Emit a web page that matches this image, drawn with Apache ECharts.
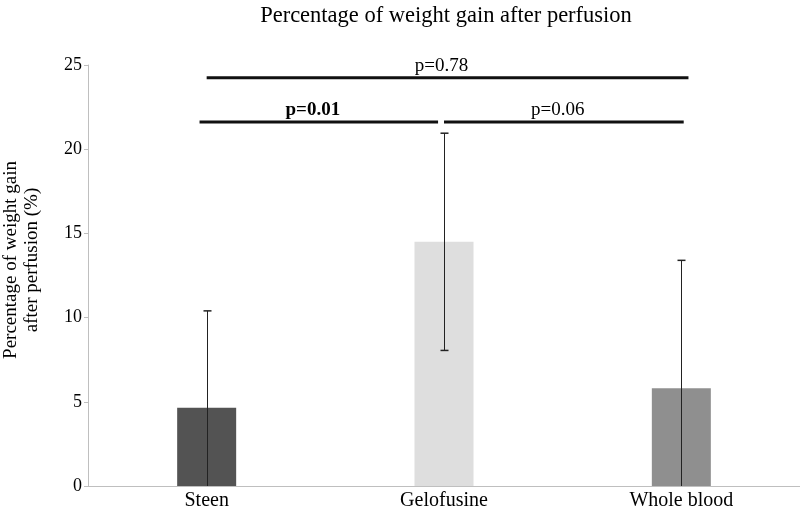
<!DOCTYPE html>
<html>
<head>
<meta charset="utf-8">
<script src="https://cdn.jsdelivr.net/npm/echarts@6/dist/echarts.min.js"></script>
<style>html,body{margin:0;padding:0;background:#fff}#c{width:800px;height:511px}</style>
</head>
<body>
<div id="c"></div>
<script>
var categories = ['Steen', 'Gelofusine', 'Whole blood'];
var means = [4.65, 14.5, 5.8];
var sds = [5.75, 6.45, 7.6];
var barColors = ['#535353', '#dedede', '#8f8f8f'];
var yTicks = [0, 5, 10, 15, 20, 25];
// significance brackets: [start, end] on category scale (0..3, centers at .5,1.5,2.5), level, text, bold
var bracketStart = [0.50, 0.47, 1.50];
var bracketEnd = [2.53, 1.475, 2.51];
var bracketLevel = [24.25, 21.62, 21.62];
var bracketText = ['p=0.78', 'p=0.01', 'p=0.06'];
var bracketBold = [false, true, false];

var FONT = "'Liberation Serif', 'Times New Roman', serif";
var chart = echarts.init(document.getElementById('c'));

var barData = means.map(function (v, i) {
  return { value: v, itemStyle: { color: barColors[i] } };
});
var errData = means.map(function (v, i) {
  return [i, Math.max(0, v - sds[i]), v + sds[i]];
});
var brData = bracketText.map(function (t, i) {
  return [bracketStart[i], bracketEnd[i], bracketLevel[i], i];
});

chart.setOption({
  animation: false,
  title: {
    text: 'Percentage of weight gain after perfusion',
    left: 441, top: 0, textAlign: 'center',
    textStyle: { fontFamily: FONT, fontSize: 22.5, fontWeight: 'normal', color: '#000' }
  },
  graphic: [{
    type: 'text',
    x: 22, y: 260, rotation: Math.PI / 2,
    style: {
      text: 'Percentage of weight gain\nafter perfusion (%)',
      font: '19px ' + FONT, fill: '#000',
      align: 'center', verticalAlign: 'middle', lineHeight: 21
    }
  }],
  grid: { left: 88, right: 0, top: 65, bottom: 24, containLabel: false },
  xAxis: [{
    type: 'category', data: categories,
    axisLine: { lineStyle: { color: '#bfbfbf', width: 1 } },
    axisTick: { show: false },
    axisLabel: { fontFamily: FONT, fontSize: 20, color: '#000', margin: 5 }
  }, {
    type: 'value', min: 0, max: 3, show: false
  }],
  yAxis: {
    type: 'value', min: yTicks[0], max: yTicks[yTicks.length - 1], interval: 5,
    splitLine: { show: false },
    axisLine: { show: true, lineStyle: { color: '#bfbfbf' } },
    axisTick: { show: true, length: 4, lineStyle: { color: '#bfbfbf' } },
    axisLabel: { fontFamily: FONT, fontSize: 18, color: '#000', margin: 6 }
  },
  series: [{
    type: 'bar', data: barData, barWidth: 59, xAxisIndex: 0
  }, {
    type: 'custom', xAxisIndex: 0, data: errData, z: 10,
    renderItem: function (params, api) {
      var x = api.value(0);
      var lo = api.coord([x, api.value(1)]);
      var hi = api.coord([x, api.value(2)]);
      var cx = Math.round(lo[0]) + 0.5;
      var children = [
        { type: 'line', shape: { x1: cx, y1: lo[1], x2: cx, y2: hi[1] }, style: { stroke: '#222', lineWidth: 1 } },
        { type: 'line', shape: { x1: cx - 4, y1: hi[1], x2: cx + 4, y2: hi[1] }, style: { stroke: '#222', lineWidth: 1.5 } }
      ];
      if (api.value(1) > 0) {
        children.push({ type: 'line', shape: { x1: cx - 4, y1: lo[1], x2: cx + 4, y2: lo[1] }, style: { stroke: '#222', lineWidth: 1.5 } });
      }
      return { type: 'group', children: children };
    }
  }, {
    type: 'custom', xAxisIndex: 1, data: brData, z: 10,
    renderItem: function (params, api) {
      var a = api.coord([api.value(0), api.value(2)]);
      var b = api.coord([api.value(1), api.value(2)]);
      var i = api.value(3);
      return {
        type: 'group', children: [
          { type: 'line', shape: { x1: a[0], y1: a[1], x2: b[0], y2: b[1] }, style: { stroke: '#111', lineWidth: 3 } },
          { type: 'text', x: (a[0] + b[0]) / 2 - 6, y: a[1] - 12, style: {
              text: bracketText[i], font: (bracketBold[i] ? 'bold ' : '') + '19px ' + FONT,
              fill: '#000', align: 'center', verticalAlign: 'middle' } }
        ]
      };
    }
  }]
});
</script>
</body>
</html>
